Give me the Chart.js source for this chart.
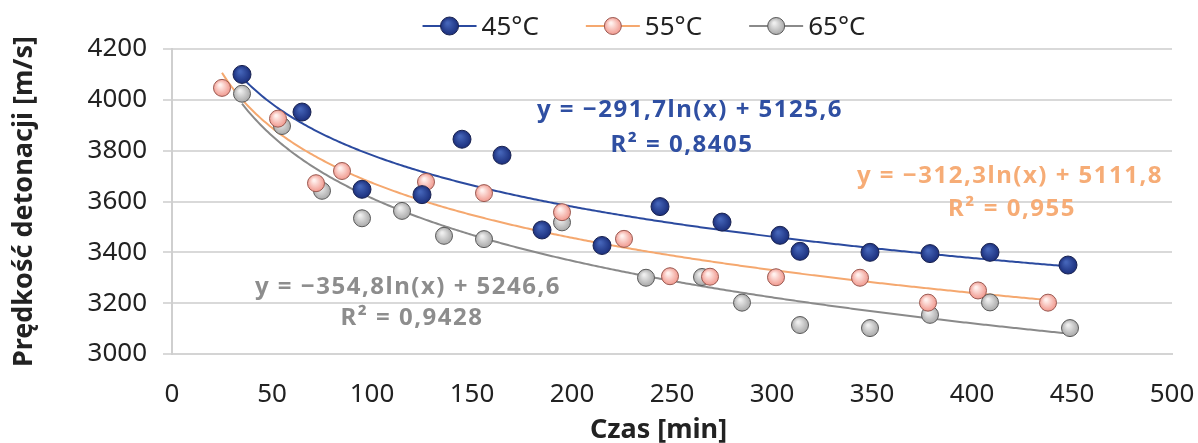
<!DOCTYPE html>
<html>
<head>
<meta charset="utf-8">
<script src="https://cdn.jsdelivr.net/npm/chart.js@4"></script>
<style>
  body { margin: 0; background: #fff; }
  canvas { display: block; }
</style>
</head>
<body>
<canvas id="chart" width="1198" height="443"></canvas>
<script>
// Czas [min] / Prędkość detonacji [m/s]
const seriesNames = ["45°C", "55°C", "65°C"];

const time45 = [35, 65, 95, 125, 145, 165, 185, 215, 244, 275, 304, 314, 349, 379, 409, 448];
const speed45 = [4100, 3952, 3648, 3627, 3845, 3782, 3488, 3427, 3580, 3519, 3467, 3404, 3400, 3395, 3400, 3350];

const time55 = [25, 53, 72, 85, 127, 156, 195, 226, 249, 269, 302, 344, 378, 403, 438];
const speed55 = [4047, 3926, 3672, 3720, 3677, 3633, 3558, 3453, 3306, 3304, 3302, 3300, 3202, 3250, 3202];

const time65 = [35, 55, 75, 95, 115, 136, 156, 195, 237, 265, 285, 314, 349, 379, 409, 449];
const speed65 = [4024, 3897, 3642, 3534, 3563, 3465, 3452, 3518, 3300, 3303, 3202, 3114, 3102, 3154, 3203, 3102];

// logarithmic trendlines as printed on the chart: y = a ln(x) + b
const trendA = [-291.7, -312.3, -354.8];
const trendB = [5125.6, 5111.8, 5246.6];
const trendFrom = [35, 25, 35];
const trendTo = [448, 438, 449];
const trendText = ["y = \u2212291,7ln(x) + 5125,6", "y = \u2212312,3ln(x) + 5111,8", "y = \u2212354,8ln(x) + 5246,6"];
const r2Text = ["R\u00b2 = 0,8405", "R\u00b2 = 0,955", "R\u00b2 = 0,9428"];
// label anchor points in data units
const eqPos = [[259, 3958], [419, 3698], [118, 3263]];
const r2Pos = [[255, 3822], [420, 3569], [120, 3141]];

const lineColors = ["#2b4a9f", "#f5a86f", "#8a8a8a"];
const textColors = ["#2f4fa2", "#f6ac76", "#8d8d8d"];
const dotInner = ["#4464b8", "#fff1ee", "#eeeeee"];
const dotOuter = ["#1b2f7c", "#f0958a", "#a5a5a5"];
const dotBorder = ["#1a2350", "#9a5a52", "#5a5a5a"];
const dotRadius = [9, 8.5, 8.5];

const times = [time45, time55, time65];
const speeds = [speed45, speed55, speed65];

function dotFill(i) {
    return function(c) {
        const chart = c.chart;
        if (!chart.chartArea || !c.raw) return dotOuter[i];
        const px = chart.scales.x.getPixelForValue(c.raw.x);
        const py = chart.scales.y.getPixelForValue(c.raw.y);
        const g = chart.ctx.createRadialGradient(px - 2, py - 3, 1, px, py, 9);
        g.addColorStop(0, dotInner[i]);
        g.addColorStop(1, dotOuter[i]);
        return g;
    };
}

const datasets = [];
for (let i = 0; i < 3; i++) {
    datasets.push({
        label: seriesNames[i],
        data: times[i].map((t, k) => ({x: t, y: speeds[i][k]})),
        showLine: false,
        pointRadius: dotRadius[i],
        pointBackgroundColor: dotFill(i),
        pointBorderColor: dotBorder[i],
        pointBorderWidth: 1,
        borderColor: lineColors[i],
        order: 1
    });
}
for (let i = 0; i < 3; i++) {
    const pts = [];
    for (let x = trendFrom[i]; x <= trendTo[i]; x += 1) {
        pts.push({x: x, y: trendA[i] * Math.log(x) + trendB[i]});
    }
    datasets.push({
        label: "trend " + seriesNames[i],
        data: pts,
        showLine: true,
        pointRadius: 0,
        borderColor: lineColors[i],
        borderWidth: 2,
        tension: 0,
        order: 2
    });
}

const equationLabels = {
    id: "equationLabels",
    afterDatasetsDraw(chart) {
        const ctx = chart.ctx;
        const xs = chart.scales.x, ys = chart.scales.y;
        ctx.save();
        ctx.font = "bold 24px 'Noto Sans'";
        ctx.letterSpacing = "1.5px";
        ctx.textAlign = "center";
        ctx.textBaseline = "middle";
        for (let i = 0; i < 3; i++) {
            ctx.fillStyle = textColors[i];
            ctx.fillText(trendText[i], xs.getPixelForValue(eqPos[i][0]), ys.getPixelForValue(eqPos[i][1]));
            ctx.fillText(r2Text[i], xs.getPixelForValue(r2Pos[i][0]), ys.getPixelForValue(r2Pos[i][1]));
        }
        ctx.restore();
    }
};

// legend: line through a marker, then the series name
const topLegend = {
    id: "topLegend",
    afterDraw(chart) {
        const ctx = chart.ctx;
        ctx.save();
        ctx.font = "26px 'Noto Sans'";
        ctx.textBaseline = "middle";
        const iconW = 54, gap = 5, itemGap = 47, cy = 27;
        const widths = seriesNames.map(n => iconW + gap + ctx.measureText(n).width);
        const total = widths.reduce((a, b) => a + b, 0) + itemGap * (seriesNames.length - 1);
        let x = 644 - total / 2;
        seriesNames.forEach((n, i) => {
            ctx.strokeStyle = lineColors[i];
            ctx.lineWidth = 2;
            ctx.beginPath(); ctx.moveTo(x, cy - 1); ctx.lineTo(x + iconW, cy - 1); ctx.stroke();
            const mx = x + iconW / 2, my = cy - 1;
            const g = ctx.createRadialGradient(mx - 2, my - 3, 1, mx, my, 9);
            g.addColorStop(0, dotInner[i]);
            g.addColorStop(1, dotOuter[i]);
            ctx.fillStyle = g;
            ctx.strokeStyle = dotBorder[i];
            ctx.lineWidth = 1;
            ctx.beginPath(); ctx.arc(mx, my, dotRadius[i], 0, Math.PI * 2); ctx.fill(); ctx.stroke();
            ctx.fillStyle = "#222";
            ctx.fillText(n, x + iconW + gap, cy + 1);
            x += widths[i] + itemGap;
        });
        ctx.restore();
    }
};

new Chart(document.getElementById("chart").getContext("2d"), {
    type: "scatter",
    data: { datasets: datasets },
    options: {
        responsive: false,
        animation: false,
        devicePixelRatio: 1,
        layout: { padding: { left: 7, right: 26, top: 49, bottom: 0 } },
        plugins: {
            tooltip: { enabled: false },
            legend: { display: false }
        },
        scales: {
            x: {
                type: "linear",
                min: 0,
                max: 500,
                ticks: {
                    stepSize: 50,
                    color: "#222",
                    font: { family: "'Noto Sans'", size: 26 },
                    padding: 25,
                    callback: v => String(v)
                },
                grid: { display: false, drawTicks: false },
                border: { display: true, color: "#d4d4d4", width: 2 },
                title: {
                    display: true,
                    text: "Czas [min]\u2003",
                    color: "#222",
                    font: { family: "'Noto Sans'", size: 27, weight: "bold" },
                    padding: { top: 0, bottom: -4 }
                },
                // the label padding would otherwise eat into the plot width
                afterFit: s => { s.height = 89; s.paddingLeft = 0; s.paddingRight = 0; }
            },
            y: {
                min: 3000,
                max: 4200,
                ticks: {
                    stepSize: 200,
                    color: "#222",
                    font: { family: "'Noto Sans'", size: 26 },
                    padding: 16,
                    callback: v => String(v)
                },
                grid: { color: "#d9d9d9", lineWidth: 2, tickLength: 9 },
                border: { display: true, color: "#cfcfcf", width: 2 },
                title: {
                    display: true,
                    text: "Prędkość detonacji [m/s]",
                    color: "#222",
                    font: { family: "'Noto Sans'", size: 27, weight: "bold" },
                    padding: { top: 1, bottom: 0 }
                },
                afterFit: s => { s.width = 165; }
            }
        }
    },
    plugins: [equationLabels, topLegend]
});
</script>
</body>
</html>
